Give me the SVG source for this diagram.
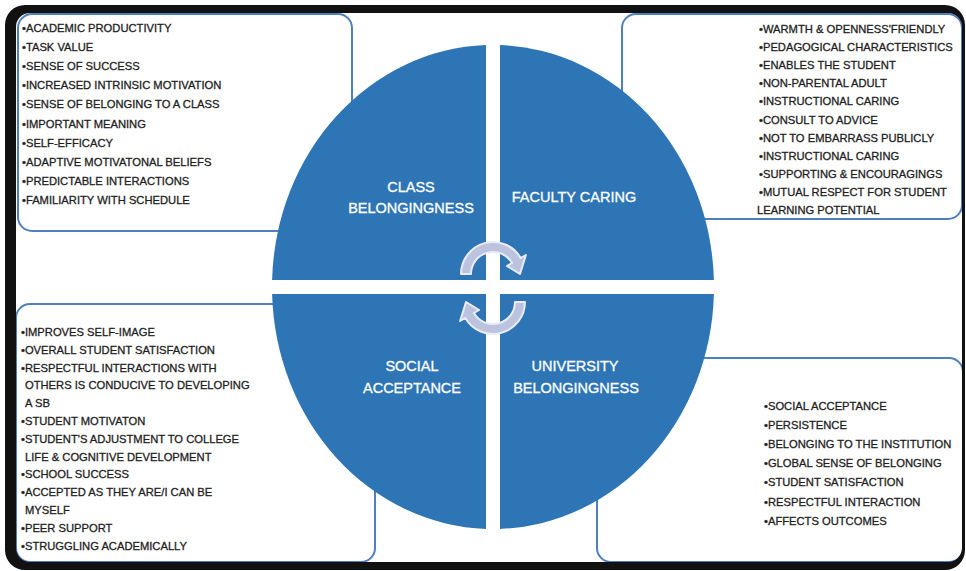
<svg xmlns="http://www.w3.org/2000/svg" width="966" height="571" viewBox="0 0 966 571">
<style>
.box{fill:#fff;stroke:#4f7fbd;stroke-width:2}
.q{fill:#2e75b6}
.ql{font-family:"Liberation Sans",Arial,sans-serif;font-size:14.5px;fill:#fff;stroke:#fff;stroke-width:0.3;text-anchor:middle}
.t{font-family:"Liberation Sans",Arial,sans-serif;font-size:11.2px;fill:#1e1e1e;stroke:#1e1e1e;stroke-width:0.3}
.arr{fill:#bcc3df;stroke:#e9ecf6;stroke-width:2;stroke-linejoin:round}
</style>
<rect x="0" y="0" width="966" height="571" fill="#fff"/>
<g id="box-class">
<rect class="box" x="18" y="14" width="334" height="217" rx="14"/>
<text class="t" x="22"><tspan x="22" y="32">•ACADEMIC PRODUCTIVITY</tspan><tspan x="22" y="51.1">•TASK VALUE</tspan><tspan x="22" y="70.2">•SENSE OF SUCCESS</tspan><tspan x="22" y="89.3">•INCREASED INTRINSIC MOTIVATION</tspan><tspan x="22" y="108.4">•SENSE OF BELONGING TO A CLASS</tspan><tspan x="22" y="127.5">•IMPORTANT MEANING</tspan><tspan x="22" y="146.6">•SELF-EFFICACY</tspan><tspan x="22" y="165.7">•ADAPTIVE MOTIVATONAL BELIEFS</tspan><tspan x="22" y="184.8">•PREDICTABLE INTERACTIONS</tspan><tspan x="22" y="203.9">•FAMILIARITY WITH SCHEDULE</tspan></text>
</g>
<g id="box-faculty">
<rect class="box" x="622" y="14" width="340" height="205" rx="14"/>
<text class="t"><tspan x="759" y="33">•WARMTH &amp; OPENNESS'FRIENDLY</tspan><tspan x="759" y="51.1">•PEDAGOGICAL CHARACTERISTICS</tspan><tspan x="759" y="69.2">•ENABLES THE STUDENT</tspan><tspan x="759" y="87.3">•NON-PARENTAL ADULT</tspan><tspan x="759" y="105.4">•INSTRUCTIONAL CARING</tspan><tspan x="759" y="123.5">•CONSULT TO ADVICE</tspan><tspan x="759" y="141.6">•NOT TO EMBARRASS PUBLICLY</tspan><tspan x="759" y="159.7">•INSTRUCTIONAL CARING</tspan><tspan x="759" y="177.8">•SUPPORTING &amp; ENCOURAGINGS</tspan><tspan x="759" y="195.9">•MUTUAL RESPECT FOR STUDENT</tspan><tspan x="757" y="214">LEARNING POTENTIAL</tspan></text>
</g>
<g id="box-social">
<rect class="box" x="16" y="304" width="359" height="258" rx="14"/>
<text class="t"><tspan x="21" y="336">•IMPROVES SELF-IMAGE</tspan><tspan x="21" y="353.8">•OVERALL STUDENT SATISFACTION</tspan><tspan x="21" y="371.6">•RESPECTFUL INTERACTIONS WITH</tspan><tspan x="25" y="389.4">OTHERS IS CONDUCIVE TO DEVELOPING</tspan><tspan x="25" y="407.2">A SB</tspan><tspan x="21" y="425">•STUDENT MOTIVATON</tspan><tspan x="21" y="442.8">•STUDENT'S ADJUSTMENT TO COLLEGE</tspan><tspan x="25" y="460.6">LIFE &amp; COGNITIVE DEVELOPMENT</tspan><tspan x="21" y="478.4">•SCHOOL SUCCESS</tspan><tspan x="21" y="496.2">•ACCEPTED AS THEY ARE/I CAN BE</tspan><tspan x="25" y="514">MYSELF</tspan><tspan x="21" y="531.8">•PEER SUPPORT</tspan><tspan x="21" y="549.6">•STRUGGLING ACADEMICALLY</tspan></text>
</g>
<g id="box-university">
<rect class="box" x="597" y="358" width="366" height="204" rx="14"/>
<text class="t"><tspan x="764" y="410">•SOCIAL ACCEPTANCE</tspan><tspan x="764" y="429.1">•PERSISTENCE</tspan><tspan x="764" y="448.2">•BELONGING TO THE INSTITUTION</tspan><tspan x="764" y="467.3">•GLOBAL SENSE OF BELONGING</tspan><tspan x="764" y="486.4">•STUDENT SATISFACTION</tspan><tspan x="764" y="505.5">•RESPECTFUL INTERACTION</tspan><tspan x="764" y="524.6">•AFFECTS OUTCOMES</tspan></text>
</g>
<g id="q-class">
<path class="q" d="M486,280 L486,45.1 A221,242 0 0 0 272.1,280 Z"/>
<text class="ql" x="411" y="192">CLASS</text>
<text class="ql" x="411" y="213">BELONGINGNESS</text>
</g>
<g id="q-faculty">
<path class="q" d="M500,280 L500,45.1 A221,242 0 0 1 713.9,280 Z"/>
<text class="ql" x="574" y="202">FACULTY CARING</text>
</g>
<g id="q-social">
<path class="q" d="M486,294 L272.1,294 A221,242 0 0 0 486,528.9 Z"/>
<text class="ql" x="412" y="371">SOCIAL</text>
<text class="ql" x="412" y="393">ACCEPTANCE</text>
</g>
<g id="q-university">
<path class="q" d="M500,294 L713.9,294 A221,242 0 0 1 500,528.9 Z"/>
<text class="ql" x="575" y="371">UNIVERSITY</text>
<text class="ql" x="576" y="393">BELONGINGNESS</text>
</g>
<g id="connectors">
<path class="arr" d="M461,274 A32,32 0 0 1 520.7,258 L525.9,255 L520,274 L506.9,266 L512.1,263 A22,22 0 0 0 471,274 Z"/>
<path class="arr" d="M525,302 A32,32 0 0 1 465.3,318 L460.1,321 L466,302 L479.1,310 L473.9,313 A22,22 0 0 0 515,302 Z"/>
</g>
<path id="frame" fill="#111" fill-rule="evenodd" d="M25,5 H945 A20,20 0 0 1 965,25 V550 A20,20 0 0 1 945,570 H25 A20,20 0 0 1 5,550 V25 A20,20 0 0 1 25,5 Z M30,13 H948 A14,14 0 0 1 962,27 V548 A14,14 0 0 1 948,562 H30 A14,14 0 0 1 16,548 V27 A14,14 0 0 1 30,13 Z"/>
</svg>
